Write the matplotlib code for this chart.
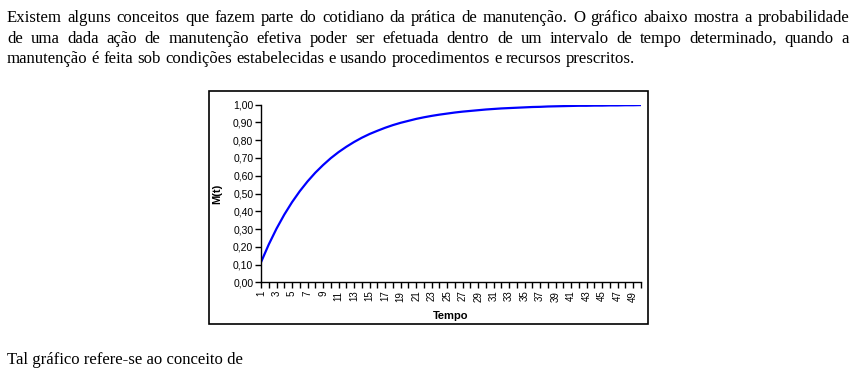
import matplotlib
matplotlib.use("Agg")
import matplotlib.pyplot as plt
from matplotlib.patches import Rectangle
from matplotlib.ticker import FuncFormatter

W, H = 856, 380

paragraph = [
    "Existem alguns conceitos que fazem parte do cotidiano da prática de manutenção. O gráfico abaixo mostra a probabilidade",
    "de uma dada ação de manutenção efetiva poder ser efetuada dentro de um intervalo de tempo determinado, quando a",
    "manutenção é feita sob condições estabelecidas e usando procedimentos e recursos prescritos.",
]
question = "Tal gráfico refere-se ao conceito de"

tempo = list(range(1, 51))
m_t = [
    0.113, 0.213, 0.302, 0.381, 0.451, 0.513, 0.568, 0.617, 0.660, 0.699,
    0.733, 0.763, 0.790, 0.814, 0.835, 0.853, 0.870, 0.885, 0.898, 0.909,
    0.920, 0.929, 0.937, 0.944, 0.950, 0.956, 0.961, 0.965, 0.969, 0.973,
    0.976, 0.979, 0.981, 0.983, 0.985, 0.987, 0.988, 0.990, 0.991, 0.992,
    0.993, 0.994, 0.994, 0.995, 0.995, 0.996, 0.996, 0.997, 0.997, 0.998,
]
y_ticks = [0.0, 0.1, 0.2, 0.3, 0.4, 0.5, 0.6, 0.7, 0.8, 0.9, 1.0]
x_labels = list(range(1, 50, 2))


def px(x, y):
    return x / W, 1 - y / H


fig = plt.figure(figsize=(W / 100, H / 100), dpi=100)
renderer = fig.canvas.get_renderer()

serif = dict(family="Liberation Serif", size=12.1, color="black")

# width of a normal space, measured once
probe_a = fig.text(0, 0, "a", **serif)
probe_aa = fig.text(0, 0, "a a", **serif)
space_w = probe_aa.get_window_extent(renderer).width - 2 * probe_a.get_window_extent(renderer).width
probe_a.remove()
probe_aa.remove()

# justified paragraph, word by word
left, right = 7, 849
baselines = [22, 43, 63]
for i, line in enumerate(paragraph):
    words = line.split(" ")
    texts = [fig.text(0, 0, w, va="baseline", ha="left", **serif) for w in words]
    widths = [t.get_window_extent(renderer).width for t in texts]
    if i == len(paragraph) - 1:
        gap = space_w
    else:
        gap = (right - left - sum(widths)) / (len(words) - 1)
    x = left
    for t, w in zip(texts, widths):
        t.set_position(px(x, baselines[i]))
        x += w + gap

fig.text(*px(7, 364), question, va="baseline", ha="left", **serif)

# chart frame
fig.patches.append(Rectangle(px(209, 324), (648 - 209) / W, (324 - 91) / H,
                             transform=fig.transFigure, fill=False,
                             edgecolor="black", linewidth=1.2))

ax = fig.add_axes([261 / W, 1 - 282.3 / H, (641 - 261) / W, (282.3 - 104.7) / H])
ax.plot(tempo, m_t, color="#0000ff", linewidth=1.6)
ax.set_xlim(1, 50)
ax.set_ylim(0, 1)
for s in ("top", "right"):
    ax.spines[s].set_visible(False)
for s in ("left", "bottom"):
    ax.spines[s].set_linewidth(1.0)

ax.set_yticks(y_ticks)
ax.yaxis.set_major_formatter(FuncFormatter(lambda v, p: f"{v:.2f}".replace(".", ",")))
ax.set_xticks(tempo)
ax.set_xticklabels([str(t) if t in x_labels else "" for t in tempo], rotation=90)
ax.tick_params(axis="both", direction="out", length=4, width=1.0, colors="black")
ax.tick_params(axis="y", labelsize=7.5, pad=1.5)
ax.tick_params(axis="x", labelsize=7, pad=2)
for lbl in ax.get_xticklabels() + ax.get_yticklabels():
    lbl.set_family("Liberation Sans")

fig.text(*px(451, 316), "Tempo", ha="center", va="center",
         family="Liberation Sans", fontsize=8, fontweight="bold")
fig.text(*px(217, 194), "M(t)", ha="center", va="center", rotation=90,
         family="Liberation Sans", fontsize=8, fontweight="bold")

fig.savefig("out.png", dpi=100)
